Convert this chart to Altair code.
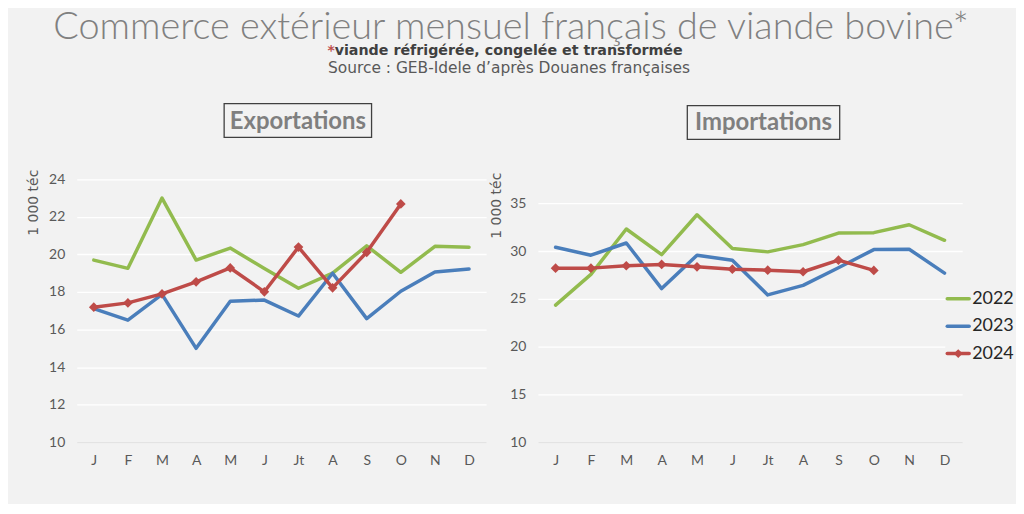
import json
import altair as alt
import pandas as pd

# ---- data -------------------------------------------------------------
months = ["J", "F", "M", "A", "M", "J", "Jt", "A", "S", "O", "N", "D"]
years = ["2022", "2023", "2024"]
colors = ["#92BB4E", "#4A7EBB", "#BE4B48"]

exp_2022 = [19.70, 19.26, 23.00, 19.70, 20.34, 19.25, 18.20, 19.00, 20.46, 19.05, 20.43, 20.38]
exp_2023 = [17.12, 16.50, 17.87, 15.00, 17.51, 17.57, 16.72, 19.00, 16.58, 18.04, 19.07, 19.23]
exp_2024 = [17.19, 17.42, 17.90, 18.54, 19.28, 18.01, 20.39, 18.22, 20.11, 22.69]

imp_2022 = [24.34, 27.56, 32.30, 29.63, 33.79, 30.26, 29.91, 30.67, 31.88, 31.92, 32.75, 31.12]
imp_2023 = [30.39, 29.56, 30.84, 26.07, 29.56, 29.04, 25.41, 26.41, 28.25, 30.15, 30.19, 27.69]
imp_2024 = [28.21, 28.21, 28.46, 28.60, 28.35, 28.10, 28.00, 27.83, 29.04, 27.97]

title_main = "Commerce extérieur mensuel français de viande bovine*"
title_sub = "viande réfrigérée, congelée et transformée"
title_src = "Source : GEB-Idele d’après Douanes françaises"
y_title = "1 000 téc"

FONT = "Lato"
GRAY = "#595959"
BG = "#f2f2f2"


def long_df(series):
    rows = []
    for yr, vals in zip(years, series):
        for i, v in enumerate(vals):
            rows.append({"m": i + 1, "year": yr, "value": v})
    return pd.DataFrame(rows)


exp_df = long_df([exp_2022, exp_2023, exp_2024])
imp_df = long_df([imp_2022, imp_2023, imp_2024])
legend_df = pd.DataFrame({"year": years})

label_expr = json.dumps(months) + "[datum.value - 1]"

x_enc = alt.X(
    "m:O",
    scale=alt.Scale(domain=list(range(1, 13))),
    axis=alt.Axis(
        labelExpr=label_expr, title=None, labelAngle=0, ticks=False,
        domain=True, domainColor="#d9d9d9", domainWidth=1, grid=False,
        labelPadding=11, labelFontSize=14, labelColor=GRAY, labelFont=FONT,
    ),
)


def y_enc(domain, values, title_x, title_y):
    return alt.Y(
        "value:Q",
        scale=alt.Scale(domain=domain, nice=False, zero=False),
        axis=alt.Axis(
            values=values, title=y_title, titleX=title_x, titleY=title_y,
            titleAngle=-90, titleAlign="center", titleBaseline="middle",
            titleFontSize=14, titleFontWeight="normal", titleColor=GRAY, titleFont="DejaVu Sans",
            labelFontSize=14, labelColor=GRAY, labelFont=FONT, labelPadding=12,
            ticks=False, domain=False, grid=True, gridColor="#ffffff", gridWidth=1.3,
        ),
    )


def panel(df, domain, values, title_x, title_y, name, box, width, extra_text):
    yy = y_enc(domain, values, title_x, title_y)
    lines = alt.Chart(df).mark_line(strokeWidth=3.5, strokeJoin="round", strokeCap="round").encode(
        x=x_enc, y=yy,
        stroke=alt.Stroke("year:N", scale=alt.Scale(domain=years, range=colors), legend=None),
    )
    pts = alt.Chart(df[df["year"] == "2024"]).mark_point(
        shape="diamond", filled=True, size=95, opacity=1, color=colors[2]
    ).encode(x=x_enc, y=yy)

    one = pd.DataFrame({"t": [name]})
    bx0, bx1, by0, by1 = box
    rect = alt.Chart(one).mark_rect(fillOpacity=0, stroke="#404040", strokeWidth=1.3).encode(
        x=alt.value(bx0), x2=alt.value(bx1), y=alt.value(by0), y2=alt.value(by1)
    )
    ptitle = alt.Chart(one).mark_text(
        font=FONT, fontSize=24, fontWeight="bold", color="#7f7f7f", align="center", baseline="middle"
    ).encode(x=alt.value((bx0 + bx1) / 2), y=alt.value((by0 + by1) / 2 + 1), text="t:N")

    return alt.layer(lines, pts, rect, ptitle, *extra_text).properties(width=width, height=264)


hdr = pd.DataFrame({"a": [0]})
t_main = alt.Chart(hdr).mark_text(
    text=title_main, font=FONT, fontSize=38, fontWeight=300, color="#808080", align="center", baseline="alphabetic"
).encode(x=alt.value(436), y=alt.value(-141))
t_star = alt.Chart(hdr).mark_text(
    text="*", font="DejaVu Sans", fontSize=14, fontWeight="bold", color="#C0504D", align="right", baseline="alphabetic"
).encode(x=alt.value(259), y=alt.value(-125))
t_sub = alt.Chart(hdr).mark_text(
    text=title_sub, font="DejaVu Sans", fontSize=14.3, fontWeight="bold", color="#404040", align="left", baseline="alphabetic"
).encode(x=alt.value(259), y=alt.value(-125))
t_src = alt.Chart(hdr).mark_text(
    text=title_src, font="DejaVu Sans", fontSize=15.5, color=GRAY, align="center", baseline="alphabetic"
).encode(x=alt.value(434), y=alt.value(-107))

left = panel(exp_df, [10, 24], list(range(10, 25, 2)), -43, 23, "Exportations",
             (148, 296, -76, -42), 411, [t_main, t_star, t_sub, t_src])

right_main = panel(imp_df, [10, 37.5], list(range(10, 36, 5)), -42, 26, "Importations",
                   (150, 303, -74, -40), 426, [])

# ---- manual legend (right panel) -----------------------------------
leg_y = alt.Y("year:N", scale=alt.Scale(type="point", domain=years, range=[120, 175], padding=0), axis=None)
leg_bg = alt.Chart(hdr).mark_rect(fill=BG).encode(
    x=alt.value(409), x2=alt.value(442), y=alt.value(106), y2=alt.value(190)
)
leg_rules = alt.Chart(legend_df).mark_rule(strokeWidth=3.5, strokeCap="round").encode(
    x=alt.value(411), x2=alt.value(433), y=leg_y,
    color=alt.Color("year:N", scale=alt.Scale(domain=years, range=colors), legend=None),
)
leg_diamond = alt.Chart(legend_df[legend_df["year"] == "2024"]).mark_point(
    shape="diamond", filled=True, size=80, opacity=1, color=colors[2]
).encode(x=alt.value(422), y=leg_y)
leg_text = alt.Chart(legend_df).mark_text(
    font=FONT, fontSize=18, color="#262626", align="left", baseline="middle"
).encode(x=alt.value(436), y=leg_y, text="year:N")
leg = alt.layer(leg_bg, leg_rules, leg_diamond, leg_text)

right = alt.layer(right_main, leg).resolve_scale(y="independent", color="independent")

chart = alt.hconcat(left, right, spacing=52, bounds="flush").properties(
    background=BG,
    padding={"left": 18, "top": 0, "right": 2, "bottom": 36},
).configure_view(stroke=None)

chart.save("out.html", embed_options={"renderer": "svg", "actions": False})
